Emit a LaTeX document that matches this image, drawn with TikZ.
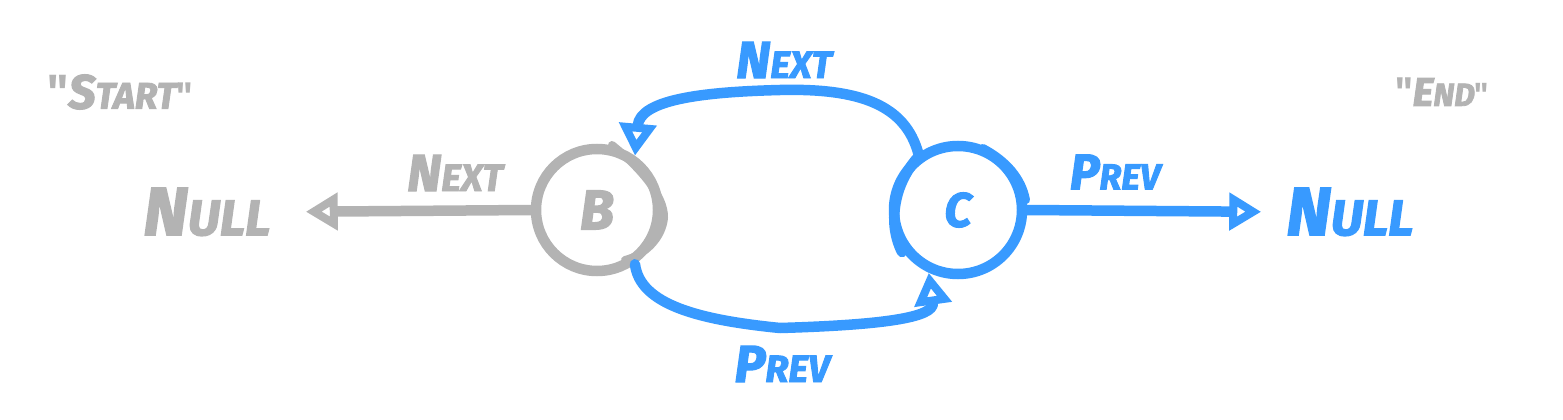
\documentclass[tikz,border=0pt]{standalone}
\usepackage{fontspec}
\setmainfont{Fira Sans}[BoldItalicFeatures={FakeBold=2.5}]
\usetikzlibrary{arrows.meta,calc}
\definecolor{sgrey}{RGB}{179,179,179}
\definecolor{sblue}{RGB}{56,154,255}
\newcommand\skc[4]{{\fontsize{#1}{#1}\selectfont #3}{\fontsize{#2}{#2}\selectfont #4}}
\newcommand\qm{{\upshape\textquotedbl}}
\tikzset{
  lbl/.style={inner sep=0pt, font=\bfseries\itshape},
  sk/.style={line width=10.5pt, line cap=round, line join=round},
  ring/.style={circle, draw, line width=10.5pt, minimum size=#1, inner sep=0pt, font=\bfseries\itshape},
  head/.style={-{Triangle[open,length=32pt,width=36pt]}}
}
\begin{document}
\begin{tikzpicture}[x=1pt,y=-1pt]
\useasboundingbox (0,0) rectangle (1563,420);
% nodes
\node[ring=122pt, draw=sgrey, text=sgrey] (B) at (597,210) {\fontsize{56}{56}\selectfont B};
\node[ring=128pt, draw=sblue, text=sblue] (C) at (958,210) {\fontsize{48}{48}\selectfont C};
\node[lbl, text=sgrey] (nullL) at (207,212) {\skc{68}{50}{N}{ULL}};
\node[lbl, text=sblue] (nullR) at (1350,212) {\skc{68}{50}{N}{ULL}};
\node[lbl, text=sgrey] (start) at (120,92) {\skc{48}{37}{\qm S}{TART\qm}};
\node[lbl, text=sgrey] (end) at (1442,92) {\skc{40}{32}{\qm E}{ND\qm}};
\node[lbl, text=sgrey] (nextL) at (455,173) {\skc{52}{38}{N}{EXT}};
\node[lbl, text=sblue] (nextT) at (784,60) {\skc{52}{38}{N}{EXT}};
\node[lbl, text=sblue] (prevB) at (782,364) {\skc{52}{38}{P}{REV}};
\node[lbl, text=sblue] (prevR) at (1115,172) {\skc{50}{36}{P}{REV}};
\coordinate (topmid) at (780,90);
\coordinate (botmid) at (780,328);
% sketch strokes on rings
\draw[sk, sgrey, line width=8pt, shift={(B.center)}] (15,-65) .. controls (40,-45) and (68,-15) .. (67,8) .. controls (65,28) and (48,45) .. (28,50);
\draw[sk, sblue, shift={(C.center)}] (-38,-55) .. controls (-62,-30) and (-72,10) .. (-56,42);
\draw[sk, sblue, line width=8pt, shift={(C.center)}] (25,-62) .. controls (48,-50) and (64,-32) .. (68,-10);
% connectors
\draw[sk, sgrey, head, shorten >=35pt] (B.west) -- (nullL.east);
\draw[sk, sblue, head, shorten >=25pt] (C.east) -- (nullR.west);
\draw[sk, sblue, head] (C.125) .. controls (905,105) and (860,88) .. (topmid) .. controls (700,92) and (640,100) .. (B.55);
\draw[sk, sblue, head] (B.-55) .. controls (640,305) and (700,320) .. (botmid) .. controls (880,325) and (935,318) .. (C.-115);
\end{tikzpicture}
\end{document}
